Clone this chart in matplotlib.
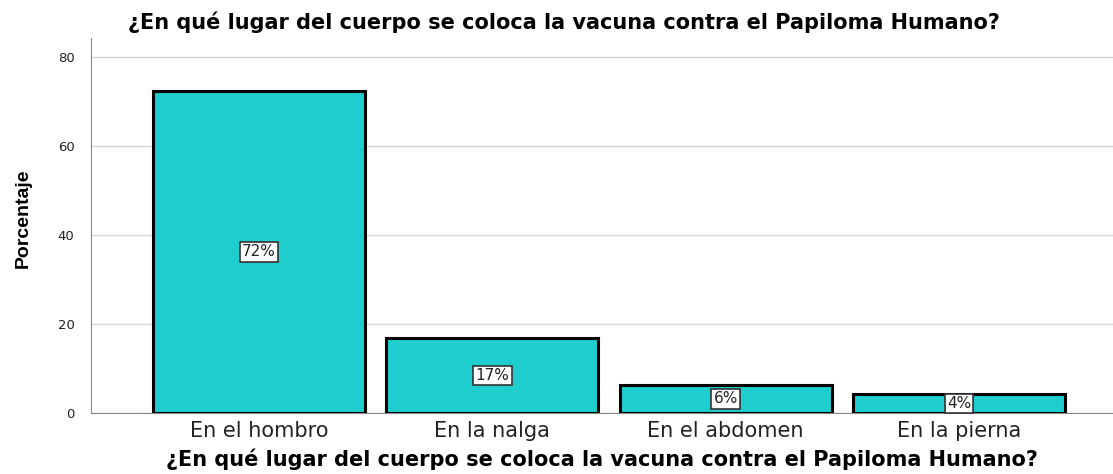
import matplotlib.pyplot as plt

categorias = ['En el hombro', 'En la nalga', 'En el abdomen', 'En la pierna']
porcentajes = [72.4, 16.9, 6.4, 4.2]
etiquetas = ['72%', '17%', '6%', '4%']
titulo = '¿En qué lugar del cuerpo se coloca la vacuna contra el Papiloma Humano?'

plt.rcParams['font.family'] = ['DejaVu Sans']

fig = plt.figure(figsize=(11.13, 4.74), dpi=100)
ax = fig.add_axes([0.0818, 0.1287, 0.9182, 0.7913])

x = range(len(categorias))
ax.bar(x, porcentajes, width=0.908, color='#1ecdcd', edgecolor='black', linewidth=2.2, zorder=3)

# etiquetas de porcentaje en el medio de cada barra
for i, (v, t) in enumerate(zip(porcentajes, etiquetas)):
    ax.text(i, v / 2, t, ha='center', va='center', fontsize=11, color='#222222', zorder=4,
            bbox=dict(boxstyle='square,pad=0.15', facecolor='white', edgecolor='#333333', linewidth=1.2))

ax.set_xlim(-0.72, 3.66)
ax.set_ylim(0, 84.3)
ax.set_yticks([0, 20, 40, 60, 80])
ax.set_xticks(list(x))
ax.set_xticklabels(categorias, fontsize=15, color='#222222')
ax.tick_params(axis='y', labelsize=9.5, length=0, pad=12, labelcolor='#222222')
ax.tick_params(axis='x', length=0, pad=6)
ax.yaxis.grid(True, color='#d4d4d4', linewidth=1, zorder=0)

for s in ['top', 'right']:
    ax.spines[s].set_visible(False)
ax.spines['left'].set_color('#888888')
ax.spines['bottom'].set_color('#888888')

ax.set_ylabel('Porcentaje', fontsize=14, fontweight='bold',
              family=['Liberation Sans Narrow', 'Liberation Sans'])
ax.yaxis.set_label_coords(-0.058, 0.52)
ax.set_xlabel(titulo, fontsize=15, fontweight='bold', va='center')
ax.xaxis.set_label_coords(0.5, -0.122)
fig.text(0.507, 0.953, titulo, ha='center', va='center', fontsize=15, fontweight='bold')

fig.savefig('out.png', dpi=100)
